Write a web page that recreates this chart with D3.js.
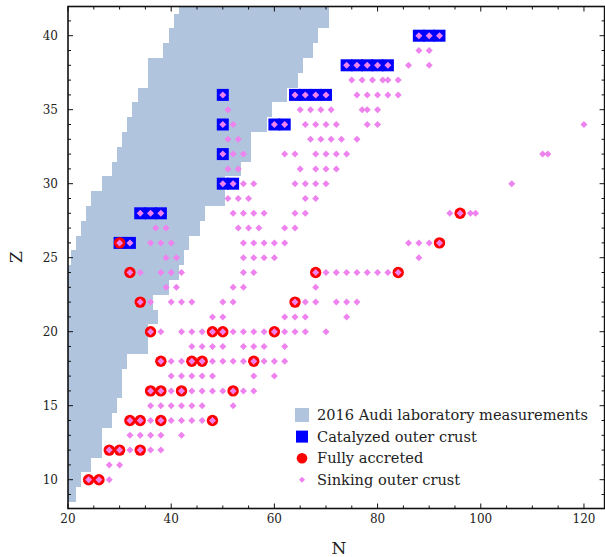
<!DOCTYPE html>
<html><head><meta charset="utf-8">
<script src="https://cdn.jsdelivr.net/npm/d3@7"></script>
<style>body{margin:0;background:#fff}svg{display:block}text{font-family:"DejaVu Serif",serif;fill:#222}</style>
</head><body><svg id="c" width="605" height="557"></svg>
<script>
// 2016 Audi laboratory measurements: for each Z, range of measured N
const audiZ    = [9,10,11,12,13,14,15,16,17,18,19,20,21,22,23,24,25,26,27,28,29,30,31,32,33,34,35,36,37,38,39,40,41,42];
const audiNmin = [4,5,6,7,8,8,9,10,11,12,13,14,15,16,17,18,21,22,23,24,25,27,29,30,31,32,33,34,36,36,39,40,41,42];
const audiNmax = [21,22,24,26,26,28,29,30,30,31,35,35,37,36,39,41,42,43,45,46,50,50,53,55,55,58,59,62,64,65,67,68,70,70];

// Catalyzed outer crust
const catalyzedN = [88,90,92, 74,76,78,80,82, 50,64,66,68,70, 50,60,62, 50, 50,52, 34,36,38, 30,32];
const catalyzedZ = [40,40,40, 38,38,38,38,38, 36,36,36,36,36, 34,34,34, 32, 30,30, 28,28,28, 26,26];

// Fully accreted
const accretedN = [96, 30,92, 32,68,84, 34,64, 36,48,50,60, 38,44,46,56, 36,38,42,52, 32,34,38,48, 28,30,34, 24,26];
const accretedZ = [28, 26,26, 24,24,24, 22,22, 20,20,20,20, 18,18,18,18, 16,16,16,16, 14,14,14,14, 12,12,12, 10,10];

// Sinking outer crust (one list of N per Z row)
const sinkingZ = [40,39,38,37,36,35,34,33,32,31,30,29,28,27,26,25,24,23,22,21,20,19,18,17,16,15,14,13,12,11,10];
const sinkingN = [
  [88,90,92],
  [88,90],
  [74,76,78,80,82,86,90],
  [75,77,79,81,82,84],
  [50,64,66,68,70,76,78,80,82,84],
  [51,65,67,69,71,77,78,80],
  [50,52,60,62,66,68,70,72,78,80,120],
  [51,53,67,69,71,73,76],
  [50,52,54,62,64,68,70,72,74,112,113],
  [51,53,65,68,70,72],
  [50,52,54,56,64,66,68,70,106],
  [51,53,55,66,68],
  [34,36,38,52,54,56,58,64,66,94,96,98,99],
  [37,39,53,55,57,62,64],
  [30,32,36,38,40,54,56,58,60,62,86,88,90,92],
  [39,41,54,56,58,60,88],
  [32,34,38,40,42,54,56,68,70,72,74,76,78,80,82,84],
  [39,41,52,54,68],
  [34,36,40,42,44,50,52,64,66,68,72,74,76],
  [48,50,62,64,66,74],
  [36,38,42,44,46,48,50,52,54,56,58,60,62,64,66,70],
  [44,46,48,50,54,56,58,62],
  [38,40,42,44,46,48,50,52,54,56,58,60,62],
  [40,42,44,46,48,56,60],
  [36,38,40,42,44,46,48,50,52,54,56],
  [36,38,40,42,44,46,52],
  [32,34,36,38,40,42,44,46,48],
  [32,34,36,38,42],
  [28,30,32,34,36,38],
  [28,30],
  [24,26,28]
];

const xTicks = [20,40,60,80,100,120];
const yTicks = [10,15,20,25,30,35,40];
const legendLabels = ["2016 Audi laboratory measurements","Catalyzed outer crust","Fully accreted","Sinking outer crust"];

const svg = d3.select("#c");
const L = 68, R = 604.6, T = 6.1, B = 509.3;
const x = d3.scaleLinear().domain([20,124]).range([L,R]);
const y = d3.scaleLinear().domain([8,42]).range([B,T]);

svg.append("defs").append("clipPath").attr("id","clip")
  .append("rect").attr("x",L).attr("y",6.5).attr("width",R-L).attr("height",508.5-6.5);

const g = svg.append("g").attr("clip-path","url(#clip)");

// Audi band
g.selectAll("rect.audi").data(audiZ).join("rect").attr("class","audi")
  .attr("x",(d,i)=>x(audiNmin[i]-0.5))
  .attr("width",(d,i)=>x(audiNmax[i]+0.5)-x(audiNmin[i]-0.5))
  .attr("y",d=>y(d+0.5)).attr("height",d=>y(d-0.5)-y(d+0.5))
  .attr("fill","#b0c4de").attr("shape-rendering","crispEdges");

// catalyzed squares
const sq = 12;
g.selectAll("rect.cat").data(catalyzedN).join("rect").attr("class","cat")
  .attr("x",d=>x(d)-sq/2).attr("y",(d,i)=>y(catalyzedZ[i])-sq/2)
  .attr("width",sq).attr("height",sq).attr("fill","#0000ff");

// accreted circles
g.selectAll("circle.acc").data(accretedN).join("circle").attr("class","acc")
  .attr("cx",d=>x(d)).attr("cy",(d,i)=>y(accretedZ[i])).attr("r",5.7)
  .attr("fill","#ff0000");

// sinking diamonds
const pts = [];
sinkingZ.forEach((z,i)=>sinkingN[i].forEach(n=>pts.push([n,z])));
const dm = 3.5;
g.selectAll("path.sink").data(pts).join("path").attr("class","sink")
  .attr("d",d=>{const cx=x(d[0]),cy=y(d[1]);return `M${cx},${cy-dm}L${cx+dm},${cy}L${cx},${cy+dm}L${cx-dm},${cy}Z`;})
  .attr("fill","#ee82ee");

// frame
svg.append("rect").attr("x",L).attr("y",6.5).attr("width",R-L).attr("height",508.5-6.5)
  .attr("fill","none").attr("stroke","#111").attr("stroke-width",1.6);

// ticks (inward, all four sides)
const tk = svg.append("g").attr("stroke","#111").attr("stroke-width",1);
d3.range(20,125,5).forEach(v=>{
  const major = v%20===0, len = major?5:3;
  tk.append("line").attr("x1",x(v)).attr("x2",x(v)).attr("y1",508.5).attr("y2",508.5-len);
  tk.append("line").attr("x1",x(v)).attr("x2",x(v)).attr("y1",6.5).attr("y2",6.5+len);
});
d3.range(9,42,1).forEach(v=>{
  const major = v%5===0, len = major?5:3;
  tk.append("line").attr("y1",y(v)).attr("y2",y(v)).attr("x1",L).attr("x2",L+len);
  tk.append("line").attr("y1",y(v)).attr("y2",y(v)).attr("x1",R).attr("x2",R-len);
});

// tick labels
svg.selectAll("text.xt").data(xTicks).join("text").attr("class","xt")
  .attr("x",d=>x(d)).attr("y",523).attr("text-anchor","middle").attr("font-size",12).text(d=>d);
svg.selectAll("text.yt").data(yTicks).join("text").attr("class","yt")
  .attr("x",58).attr("y",d=>y(d)+4.3).attr("text-anchor","end").attr("font-size",12).text(d=>d);

// axis labels
svg.append("text").attr("x",339).attr("y",554).attr("text-anchor","middle").attr("font-size",17).text("N");
svg.append("text").attr("transform","translate(22,257) rotate(-90)").attr("text-anchor","middle").attr("font-size",17).text("Z");

// legend
const lx = 302, ly0 = 415, ldy = 21.6;
const lg = svg.append("g");
lg.append("rect").attr("x",lx-7).attr("y",ly0-7).attr("width",14).attr("height",14).attr("fill","#b0c4de");
lg.append("rect").attr("x",lx-6).attr("y",ly0+ldy-6).attr("width",12).attr("height",12).attr("fill","#0000ff");
lg.append("circle").attr("cx",lx).attr("cy",ly0+2*ldy).attr("r",5.3).attr("fill","#ff0000");
lg.append("path").attr("d",`M${lx},${ly0+3*ldy-3}L${lx+3},${ly0+3*ldy}L${lx},${ly0+3*ldy+3}L${lx-3},${ly0+3*ldy}Z`).attr("fill","#ee82ee");
lg.selectAll("text").data(legendLabels).join("text")
  .attr("x",317).attr("y",(d,i)=>ly0+i*ldy+5.2).attr("font-size",14.6).text(d=>d);
</script></body></html>
